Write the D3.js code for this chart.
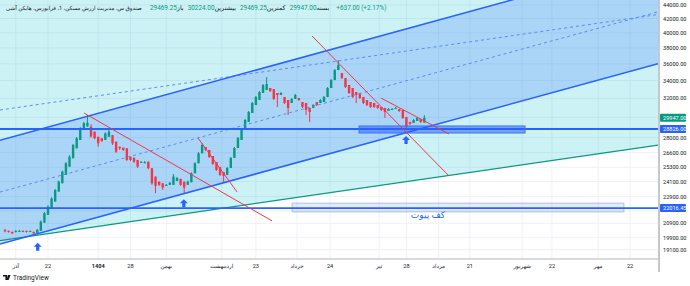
<!DOCTYPE html>
<html>
<head>
<meta charset="utf-8">
<script src="https://cdn.jsdelivr.net/npm/d3@7"></script>
<style>
  body { margin: 0; background: #fff; }
  svg { display: block; font-family: Roboto, "DejaVu Sans", sans-serif; }
</style>
</head>
<body>
<div id="chart"></div>
<script>
// candles (heikin ashi), one per trading day
var opens = [20440,20370,20300,20300,20350,20370,20370,20340,20300,20210,20370,20950,21510,22010,22510,23290,23960,24650,25350,26090,
  26990,27770,28730,29070,29060,28570,28070,27930,27770,28070,28240,27610,27140,27050,26990,26230,26140,25940,25720,25650,
  25790,25220,24510,24090,23960,23740,23830,23830,24150,24320,24090,23830,24040,24790,25650,26540,27110,26840,26290,25760,
  25330,24900,24650,25240,26120,27020,27770,28730,29530,30440,31280,31820,32590,32920,33150,33030,32590,32370,32150,31820,
  31500,31930,32040,31600,31500,30970,30970,31600,31500,31600,32150,33150,34060,35240,34880,34290,33490,33150,32700,32590,
  32150,31820,31600,31500,31280,31070,30970,30650,30760,30860,30860,30760,30030,29530,29430,29630,29830,29469.25];
var highs = [20510,20400,20320,20420,20440,20410,20390,20400,20320,20510,21100,21730,22220,22830,23500,24180,25020,25760,26360,27400,
  28050,29030,29550,30240,29300,28570,28070,27930,28500,28780,28240,27610,27140,27050,26990,26230,26140,25940,25850,25850,
  25790,25220,24510,24090,23960,23900,24070,24730,24480,24320,24090,24170,24870,25740,26640,27460,27110,26840,26290,25760,
  25330,24900,25330,26200,27110,28050,28930,29830,30650,31600,32260,32810,33600,34410,33150,33030,32590,32700,32150,31820,
  32040,32480,32040,31600,31500,30970,31390,31600,31930,32260,33260,34180,35360,36460,34880,34290,33490,33150,32700,32590,
  32150,31820,31600,31500,31280,31070,30970,30970,30970,31070,30860,30760,30030,29530,29830,30030,29830,30224];
var lows = [20270,20240,20150,20260,20300,20280,20250,20300,20150,20210,20370,20950,21510,22010,22510,23290,23960,24650,25350,26090,
  26990,27770,28730,29070,28000,27830,27140,27580,27770,28070,27300,26560,26840,26750,25850,25850,25680,25240,25720,25650,
  25130,23830,23160,23740,23420,23740,23830,23830,24150,23740,23160,23830,24040,24790,25650,26540,26750,26120,25500,24990,
  24570,23990,24650,25240,26120,27020,27770,28730,29530,30440,31280,31820,32590,32920,32700,31820,31070,32370,31390,30240,
  31500,31930,31710,30970,30240,29530,30970,31180,31500,31600,32150,33150,34060,35240,34180,33150,32480,32040,31500,31930,
  31390,31180,30970,30970,30860,30650,29930,30650,30760,30860,30550,29830,28730,29230,29430,29630,29430,29469.25];
var closes = [20340,20300,20200,20370,20370,20340,20300,20360,20200,20440,21030,21640,22130,22750,23420,24090,24930,25650,26230,27300,
  27930,28900,29400,29450,28100,27930,27450,27670,28400,28570,27450,26680,26990,26840,25940,25940,25790,25360,25760,25740,
  25220,23960,23750,23830,23610,23830,23990,24510,24400,23830,23610,24090,24790,25650,26540,27300,26840,26200,25590,25070,
  24650,24570,25240,26120,27020,27960,28830,29730,30550,31500,32150,32700,33490,33600,32810,31930,32370,32590,31500,30970,
  31930,32370,31820,31070,30760,30550,31280,31280,31820,32150,33150,34060,35240,35850,34290,33260,32590,32150,32370,32040,
  31500,31280,31070,31070,30970,30760,30550,30860,30860,30970,30650,29930,29030,29330,29730,29930,29530,29947];

// axes
var priceTicks = [44000,42000,40000,38000,36000,34000,32000,30000,28000,26600,25300,24100,22900,21800,20900,19900,19100];
var dateTicks = [3,12,26,35,45,60.5,70,81.5,90.7,104.4,112,121,129.7,144.3,152.6,165.5,174.4];
var dateLabels = ["آذر","22","1404","28","بهمن","اردیبهشت","23","خرداد","24","تیر","28","مرداد","21","شهریور","22","مهر","22"];

// drawings, as [candle index, price]
var blueChannelTop = [[0, 27880], [130, 43070]];
var blueChannelLowPrice = 19573;          // lower line price at the first anchor
var cyanChannelLow = [[0, 19760], [130, 24880]];
var cyanChannelMidPrice = 30830;          // middle line price at the first anchor
var levels = [28826, 22016.45];
var redLines = [
  [[22.04, 30443], [74.5, 21078]],
  [[53.85, 27956], [64.73, 23264]],
  [[85.66, 39580], [123.6, 24649]],
  [[104.9, 32037], [123.9, 28339]]
];
var arrows = [[9.12, 19565], [49.9, 22690], [111.9, 28147]];
var zoneBox = [[98.8, 29126], [145.1, 28436]];
var pivotBox = [[80.1, 22390], [172.7, 21734]];
var pivotText = "کف پیوت";
var pivotTextAt = [118, 21300];

var title = "صندوق س. مدیریت ارزش مسکن، 1، فرابورس، هایکن آشی";
var ohlcNames = ["باز", "بیشترین", "کمترین", "بسته"];
var change = "+637.00 (+2.17%)";

var W = 658, H = 258;
var up = "#089981", down = "#f23645", blue = "#2962ff", ink = "#131722";

var svg = d3.select("#chart").append("svg").attr("width", 690).attr("height", 286);
svg.append("rect").attr("width", 690).attr("height", 286).attr("fill", "#fff");

var x = d3.scaleLinear().domain([-1.395, 182.2]).range([0, W]);
var y = d3.scaleLog().domain([18572, 44744]).range([H, 0]);

svg.append("defs").append("clipPath").attr("id", "clip")
  .append("rect").attr("width", W).attr("height", H);

var g = svg.append("g").attr("clip-path", "url(#clip)");

// grid
g.selectAll(".hg").data(priceTicks).enter().append("line")
  .attr("x1", 0).attr("x2", W).attr("y1", d => y(d)).attr("y2", d => y(d))
  .attr("stroke", "#eef1f6");
g.selectAll(".vg").data(dateTicks).enter().append("line")
  .attr("y1", 0).attr("y2", H).attr("x1", d => x(d)).attr("x2", d => x(d))
  .attr("stroke", "#eef1f6");

// straight line across the plot through two data points
function extend(p1, p2) {
  var x1 = x(p1[0]), y1 = y(p1[1]), x2 = x(p2[0]), y2 = y(p2[1]);
  var m = (y2 - y1) / (x2 - x1);
  return [[0, y1 - m * x1], [W, y1 + m * (W - x1)]];
}
function shift(line, dy) {
  return line.map(p => [p[0], p[1] + dy]);
}
function band(a, b) {
  return "M" + a[0] + "L" + a[1] + "L" + b[1] + "L" + b[0] + "Z";
}

// cyan channel
var cLow = extend(cyanChannelLow[0], cyanChannelLow[1]);
var cOff = y(cyanChannelMidPrice) - y(cyanChannelLow[0][1]);
var cMid = shift(cLow, cOff), cTop = shift(cLow, 2 * cOff);
g.append("path").attr("d", band(cTop, cLow)).attr("fill", "rgba(0,188,212,0.2)");

// blue channel
var bTop = extend(blueChannelTop[0], blueChannelTop[1]);
var bOff = y(blueChannelLowPrice) - y(blueChannelTop[0][1]);
var bLow = shift(bTop, bOff), bMid = shift(bTop, bOff / 2);
g.append("path").attr("d", band(bTop, bLow)).attr("fill", "rgba(41,98,255,0.2)");

// candles
var idx = d3.range(closes.length);
var bw = 2.4;
g.selectAll(".wick").data(idx).enter().append("line")
  .attr("x1", i => x(i)).attr("x2", i => x(i))
  .attr("y1", i => y(highs[i])).attr("y2", i => y(lows[i]))
  .attr("stroke", i => closes[i] >= opens[i] ? up : down).attr("stroke-width", 1);
g.selectAll(".body").data(idx).enter().append("rect")
  .attr("x", i => x(i) - bw / 2).attr("width", bw)
  .attr("y", i => y(Math.max(opens[i], closes[i])))
  .attr("height", i => Math.max(1, Math.abs(y(opens[i]) - y(closes[i]))))
  .attr("fill", i => closes[i] >= opens[i] ? up : down);

// channel lines
var lineGen = d3.line();
g.append("path").attr("d", lineGen(cLow)).attr("stroke", "#089981").attr("stroke-width", 1.2).attr("fill", "none");
g.append("path").attr("d", lineGen(cMid)).attr("stroke", "#5b8def").attr("stroke-width", 1).attr("stroke-dasharray", "3,3").attr("fill", "none");
g.append("path").attr("d", lineGen(bMid)).attr("stroke", "#5b8def").attr("stroke-width", 1).attr("stroke-dasharray", "3,3").attr("fill", "none");
g.append("path").attr("d", lineGen(bTop)).attr("stroke", blue).attr("stroke-width", 1.5).attr("fill", "none");
g.append("path").attr("d", lineGen(bLow)).attr("stroke", blue).attr("stroke-width", 1.5).attr("fill", "none");

// horizontal levels
g.selectAll(".lvl").data(levels).enter().append("line")
  .attr("x1", 0).attr("x2", W).attr("y1", d => y(d)).attr("y2", d => y(d))
  .attr("stroke", blue).attr("stroke-width", 1.8);

// boxes
g.append("rect")
  .attr("x", x(zoneBox[0][0])).attr("y", y(zoneBox[0][1]))
  .attr("width", x(zoneBox[1][0]) - x(zoneBox[0][0]))
  .attr("height", y(zoneBox[1][1]) - y(zoneBox[0][1]))
  .attr("fill", "rgba(41,98,255,0.55)").attr("stroke", "#3d74f0").attr("stroke-width", 1);
g.append("rect")
  .attr("x", x(pivotBox[0][0])).attr("y", y(pivotBox[0][1]))
  .attr("width", x(pivotBox[1][0]) - x(pivotBox[0][0]))
  .attr("height", y(pivotBox[1][1]) - y(pivotBox[0][1]))
  .attr("fill", "rgba(41,98,255,0.12)").attr("stroke", "rgba(41,98,255,0.35)").attr("stroke-width", 1);
g.append("text")
  .attr("x", x(pivotTextAt[0])).attr("y", y(pivotTextAt[1]))
  .attr("text-anchor", "middle").attr("font-size", 9).attr("fill", blue)
  .text(pivotText);

// red trend lines
g.selectAll(".red").data(redLines).enter().append("line")
  .attr("x1", d => x(d[0][0])).attr("y1", d => y(d[0][1]))
  .attr("x2", d => x(d[1][0])).attr("y2", d => y(d[1][1]))
  .attr("stroke", down).attr("stroke-width", 1);

// arrows
g.selectAll(".arrow").data(arrows).enter().append("path")
  .attr("transform", d => "translate(" + x(d[0]) + "," + y(d[1]) + ")")
  .attr("d", "M0,0L4,4L1.6,4L1.6,8L-1.6,8L-1.6,4L-4,4Z")
  .attr("fill", blue);

// right axis
var axisX = W + 1;
svg.append("line").attr("x1", axisX).attr("x2", axisX).attr("y1", 0).attr("y2", 272)
  .attr("stroke", "#b2b5be").attr("stroke-width", 1.5);
svg.append("line").attr("x1", 0).attr("x2", axisX).attr("y1", H + 1).attr("y2", H + 1)
  .attr("stroke", "#b2b5be").attr("stroke-width", 1);

var priceLabels = [[closes[closes.length - 1], up], [levels[0], blue], [levels[1], blue]];
var fmt = d3.format(".2f");
var ya = svg.append("g").attr("font-size", 5.6).attr("fill", ink);
ya.selectAll("text").data(priceTicks.filter(t => priceLabels.every(p => Math.abs(y(p[0]) - y(t)) > 6)))
  .enter().append("text")
  .attr("x", axisX + 4).attr("y", d => y(d) + 2).text(d => fmt(d));
var pl = svg.append("g").selectAll("g").data(priceLabels).enter().append("g")
  .attr("transform", d => "translate(" + (axisX + 1) + "," + y(d[0]) + ")");
pl.append("rect").attr("x", 0).attr("y", -4).attr("width", 26).attr("height", 8).attr("rx", 1).attr("fill", d => d[1]);
pl.append("text").attr("x", 3).attr("y", 2).attr("font-size", 5.6).attr("fill", "#fff").text(d => fmt(d[0]));

// bottom axis
var xa = svg.append("g").attr("font-size", 5.6).attr("fill", ink);
xa.selectAll("text").data(dateTicks).enter().append("text")
  .attr("x", d => x(d)).attr("y", 268).attr("text-anchor", "middle")
  .attr("font-weight", (d, i) => dateLabels[i] === "1404" ? "bold" : null)
  .text((d, i) => dateLabels[i]);

// legend, laid out left to right
var lg = svg.append("g");
var tt = lg.append("text").attr("x", 6).attr("y", 10).attr("fill", ink).attr("font-size", 6.4).text(title);
var tw = tt.node().getComputedTextLength();
tt.attr("font-size", Math.min(7.6, 6.4 * 136 / tw));
tw = tt.node().getComputedTextLength();
if (tw < 134) tt.attr("word-spacing", (134 - tw) / 8);
var cx = 150;
var vals = [opens[opens.length - 1], highs[highs.length - 1], lows[lows.length - 1], closes[closes.length - 1]];
ohlcNames.forEach(function (n, i) {
  var t = lg.append("text").attr("x", cx).attr("y", 10).attr("font-size", 6.4);
  t.append("tspan").attr("fill", up).text(fmt(vals[i]));
  t.append("tspan").attr("fill", ink).text(n);
  cx += t.node().getComputedTextLength() + 4;
});
lg.append("text").attr("x", cx + 3).attr("y", 10).attr("font-size", 6.4).attr("fill", up).text(change);

// watermark
svg.append("text").attr("x", 13).attr("y", 280).attr("font-size", 6.5).attr("fill", ink).text("TradingView");
svg.append("path").attr("d", "M3,275h4v5h-1.6v-3.4h-2.4z M7.8,275h2.8l-2,5h-2z").attr("fill", ink);
</script>
</body>
</html>
